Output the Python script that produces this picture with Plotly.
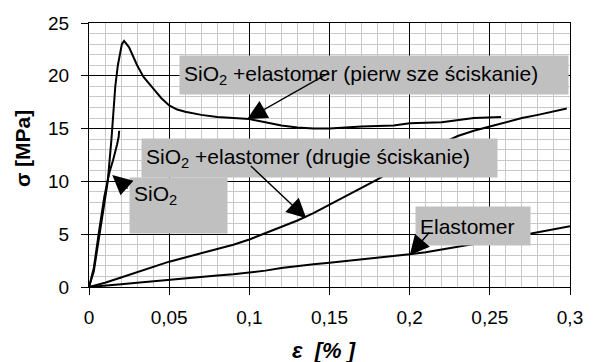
import plotly.graph_objects as go

# ---- data ----
x_first = [0, 0.003, 0.0066, 0.0117, 0.014, 0.0164, 0.018, 0.0205, 0.0219, 0.025, 0.03, 0.034,
           0.04, 0.045, 0.05, 0.055, 0.06, 0.07, 0.08, 0.09, 0.1, 0.11, 0.12, 0.13, 0.14, 0.15,
           0.16, 0.17, 0.19, 0.2, 0.22, 0.24, 0.257]
y_first = [0, 1.5, 5.0, 10.0, 14.0, 19.0, 21.0, 23.0, 23.3, 22.7, 21.0, 19.9,
           18.8, 17.9, 17.2, 16.8, 16.6, 16.3, 16.1, 16.0, 15.9, 15.6, 15.3, 15.1, 15.0, 15.0,
           15.1, 15.2, 15.3, 15.5, 15.6, 16.0, 16.1]

x_sio2 = [0, 0.003, 0.006, 0.0095, 0.0115, 0.013, 0.015, 0.0165, 0.0175, 0.0185, 0.0188]
y_sio2 = [0, 1.8, 5.0, 8.5, 10.0, 11.0, 12.0, 12.8, 13.5, 14.2, 14.8]

x_second = [0, 0.01, 0.02, 0.03, 0.04, 0.05, 0.06, 0.07, 0.08, 0.09, 0.1, 0.11, 0.12, 0.13,
            0.14, 0.15, 0.16, 0.17, 0.18, 0.19, 0.2, 0.21, 0.22, 0.23, 0.24, 0.25, 0.26, 0.27,
            0.28, 0.29, 0.298]
y_second = [0, 0.4, 0.9, 1.4, 1.9, 2.4, 2.8, 3.2, 3.6, 4.0, 4.5, 5.1, 5.7, 6.3,
            7.0, 7.8, 8.6, 9.4, 10.2, 11.1, 12.0, 12.8, 13.6, 14.3, 14.8, 15.2, 15.6, 16.0,
            16.3, 16.6, 16.9]

x_elast = [0, 0.01, 0.02, 0.03, 0.04, 0.05, 0.06, 0.07, 0.08, 0.09, 0.1, 0.11, 0.12, 0.13,
           0.14, 0.15, 0.16, 0.17, 0.18, 0.19, 0.2, 0.21, 0.22, 0.23, 0.24, 0.25, 0.26, 0.27,
           0.28, 0.29, 0.3]
y_elast = [0, 0.1, 0.25, 0.4, 0.55, 0.7, 0.8, 0.95, 1.1, 1.2, 1.35, 1.55, 1.8, 2.0,
           2.15, 2.3, 2.45, 2.6, 2.75, 2.9, 3.1, 3.3, 3.55, 3.8, 4.05, 4.3, 4.6, 4.9,
           5.2, 5.45, 5.75]

x_tickvals = [0, 0.05, 0.1, 0.15, 0.2, 0.25, 0.3]
x_ticktext = ["0", "0,05", "0,1", "0,15", "0,2", "0,25", "0,3"]
y_tickvals = [0, 5, 10, 15, 20, 25]
y_ticktext = ["0", "5", "10", "15", "20", "25"]

label_first = "SiO<sub>2</sub> +elastomer (pierw sze ściskanie)"
label_second = "SiO<sub>2</sub> +elastomer (drugie ściskanie)"
label_sio2 = "SiO<sub>2</sub>"
label_elast = "Elastomer"

# ---- figure ----
FONT = "Liberation Sans, Arial, sans-serif"
W, H = 595, 362
PL, PR, PT, PB = 89, 578, 23, 287   # plot area in window pixels
PW, PH = PR - PL, PB - PT

fig = go.Figure()
line = dict(color="black", width=2)
for xs, ys in [(x_second, y_second), (x_elast, y_elast), (x_sio2, y_sio2), (x_first, y_first)]:
    fig.add_trace(go.Scatter(x=xs, y=ys, mode="lines", line=line, showlegend=False,
                             hoverinfo="skip"))


def px_x(p):
    return (p - PL) / PW


def px_y(p):
    return 1 - (p - PT) / PH


def box(text, x0, y0, x1, y1, valign="middle"):
    pad = 4
    fig.add_annotation(
        text=text, xref="paper", yref="paper", x=px_x(x0), y=px_y(y0),
        xanchor="left", yanchor="top", showarrow=False,
        width=x1 - x0 - 2 * pad, height=y1 - y0 - 2 * pad, borderpad=pad,
        align="left", valign=valign, bgcolor="#c0c0c0",
        font=dict(family=FONT, size=21, color="black"))


def arrow(hx, hy, tx, ty):
    fig.add_annotation(
        text="", x=hx, y=hy, xref="x", yref="y", ax=tx, ay=ty, axref="x", ayref="y",
        showarrow=True, arrowhead=2, arrowsize=2.8, arrowwidth=1.4, arrowcolor="black",
        standoff=0)


box(label_first, 180, 55, 568, 93)
box(label_second, 142, 138, 497, 176)
box(label_sio2, 130, 177, 227, 232, valign="top")
box(label_elast, 420, 206, 534, 244)

arrow(0.0987, 15.9, 0.150, 20.3)
arrow(0.1355, 6.5, 0.100, 11.6)
arrow(0.0145, 10.6, 0.025, 9.2)
arrow(0.200, 3.0, 0.213, 5.3)

fig.add_annotation(text="<b>σ [MPa]</b>", xref="paper", yref="paper",
                   x=px_x(21), y=px_y(149), xanchor="center", yanchor="middle",
                   textangle=-90, showarrow=False,
                   font=dict(family=FONT, size=21, color="black"))
fig.add_annotation(text="<b><i>ε  [% ]</i></b>", xref="paper", yref="paper",
                   x=px_x(328), y=px_y(350), xanchor="center", yanchor="middle",
                   showarrow=False,
                   font=dict(family=FONT, size=22, color="black"))

axis_common = dict(
    showline=True, linecolor="black", linewidth=1, mirror=True,
    ticks="outside", ticklen=7, tickcolor="black",
    showgrid=True, gridcolor="black", gridwidth=1, zeroline=False,
    tickfont=dict(family=FONT, size=19, color="black"),
)
fig.update_xaxes(range=[0, 0.3], tickvals=x_tickvals, ticktext=x_ticktext,
                 ticklabelstandoff=6,
                 minor=dict(dtick=0.01, tick0=0, showgrid=True, gridcolor="#c8c8c8", gridwidth=1),
                 **axis_common)
fig.update_yaxes(range=[0, 25], tickvals=y_tickvals, ticktext=y_ticktext,
                 ticklabelstandoff=8,
                 minor=dict(dtick=1, tick0=0, showgrid=True, gridcolor="#c8c8c8", gridwidth=1),
                 **axis_common)

fig.update_layout(
    width=W, height=H,
    margin=dict(l=PL, r=W - PR, t=PT, b=H - PB, pad=0),
    paper_bgcolor="white", plot_bgcolor="white",
    font=dict(family=FONT, color="black"),
)

fig.write_html(
    "out.html",
    config={"displayModeBar": False},
    post_script="document.body.style.margin='0';document.body.style.overflow='hidden';",
)
